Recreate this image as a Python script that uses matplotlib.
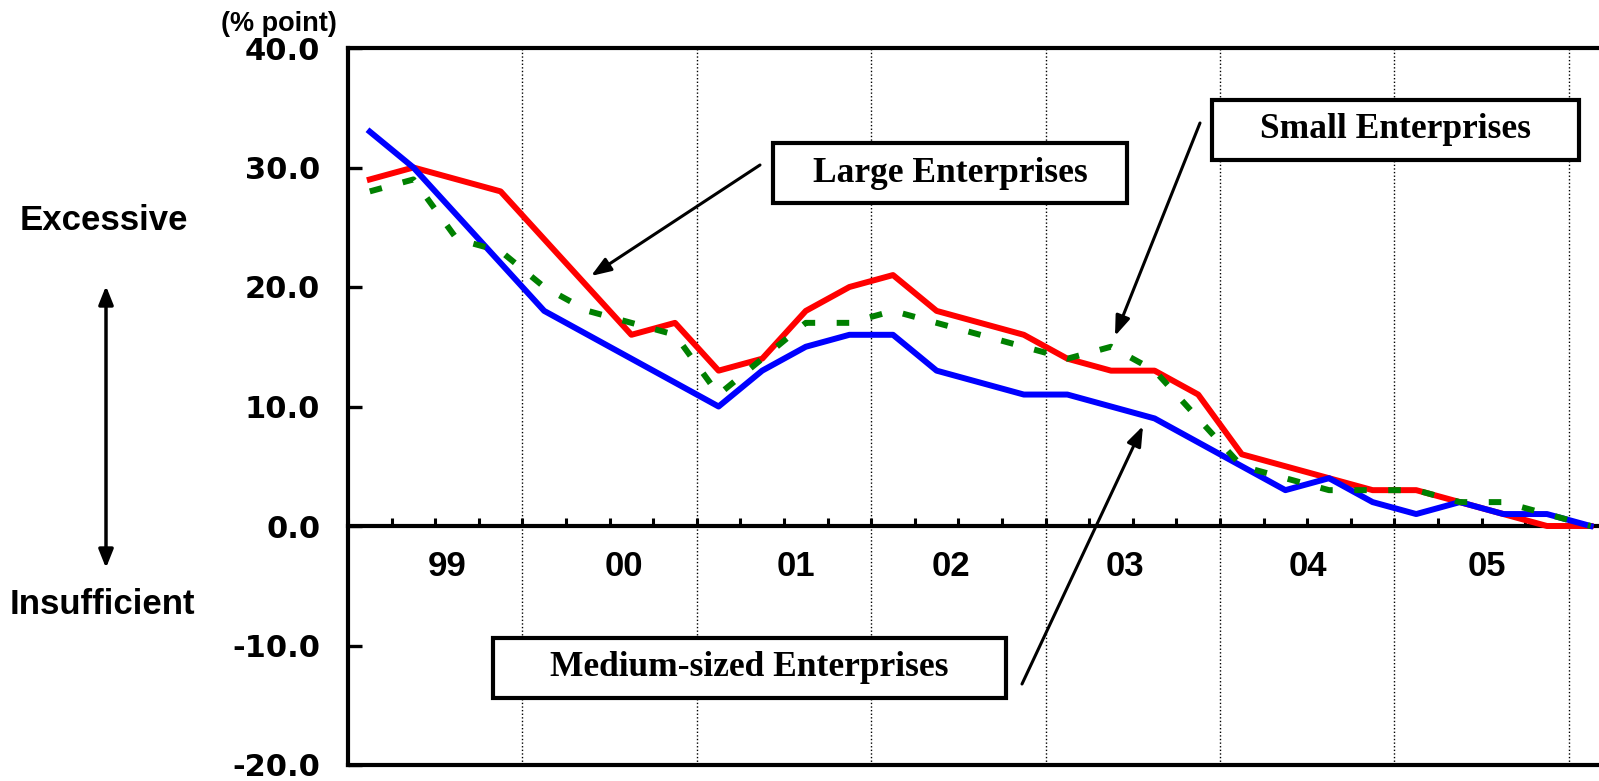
import numpy as np
import matplotlib.pyplot as plt
from matplotlib.patches import Rectangle, FancyArrowPatch

plt.rcParams['font.family'] = ['Liberation Sans', 'DejaVu Sans']

# quarterly values, 1999 Q1 .. 2006 Q1
large = [29, 30, 29, 28, 24, 20, 16, 17, 13, 14, 18, 20, 21, 18, 17, 16, 14, 13, 13, 11,
         6, 5, 4, 3, 3, 2, 1, 0, 0]
medium = [33, 30, 26, 22, 18, 16, 14, 12, 10, 13, 15, 16, 16, 13, 12, 11, 11, 10, 9, 7,
          5, 3, 4, 2, 1, 2, 1, 1, 0]
small = [28, 29, 24, 23, 20, 18, 17, 16, 11, 14, 17, 17, 18, 17, 16, 15, 14, 15, 13, 9,
         5, 4, 3, 3, 3, 2, 2, 1, 0]
years = ['99', '00', '01', '02', '03', '04', '05']
yticks = [-20, -10, 0, 10, 20, 30, 40]

W, H = 1599, 781


def fx(px):
    return px / W


def fy(py):
    return 1 - py / H


x = np.arange(len(large)) + 0.5

fig = plt.figure(figsize=(W / 100, H / 100), dpi=100)
ax = fig.add_axes([fx(348), fy(765), 1 - fx(348), fy(48) - fy(765)])

# year separators
for k in range(1, len(years) + 1):
    ax.axvline(4 * k, color='black', lw=1, ls=(0, (1, 1.6)), zorder=1)

ax.plot(x, large, color='#ff0000', lw=4.3, zorder=3)
ax.plot(x, medium, color='#0000ff', lw=4.3, zorder=4)
ax.plot(x, small, color='#008000', lw=4.3, ls=(0, (2.1, 3.6)), zorder=5)

ax.set_xlim(0, (W - 348) / 43.6)
ax.set_ylim(-20, 40)

ax.spines['bottom'].set_position(('data', 0))
ax.spines['bottom'].set_linewidth(3)
ax.spines['left'].set_linewidth(3)
ax.spines['top'].set_linewidth(3)
ax.spines['right'].set_visible(False)
ax.axhline(-20, color='black', lw=3, clip_on=False)

ax.set_xticks(np.arange(0, 29))
ax.tick_params(axis='x', direction='in', length=6, width=2.2, labelbottom=False)
ax.set_yticks(yticks)
ax.set_yticklabels([f'{v:.1f}' for v in yticks])
ax.tick_params(axis='y', direction='in', length=10, width=2.4, pad=20)
for lab in ax.get_yticklabels():
    lab.set_fontweight('bold')
    lab.set_fontsize(22)
    lab.set_family(['DejaVu Sans'])

# small shifts so the year labels sit as in the original
year_shift = [0.28, 0.33, 0.28, -0.16, -0.19, 0.02, 0.12]
for i, yr in enumerate(years):
    ax.text(4 * i + 2 + year_shift[i], -3.35, yr, ha='center', va='center',
            fontsize=25, fontweight='bold')

fig.text(fx(279), fy(24), '(% point)', ha='center', va='center', fontsize=19.5, fontweight='bold')
fig.text(fx(104), fy(221), 'Excessive', ha='center', va='center', fontsize=25, fontweight='bold')
fig.text(fx(102), fy(604), 'Insufficient', ha='center', va='center', fontsize=25, fontweight='bold')

fig.add_artist(FancyArrowPatch((fx(106), fy(568)), (fx(106), fy(286)), transform=fig.transFigure,
                               arrowstyle='<|-|>,head_length=0.55,head_width=0.22',
                               mutation_scale=20, lw=2.5, color='black', shrinkA=0, shrinkB=0))

# labelled boxes with pointer arrows
boxes = [
    ('Large Enterprises', (773, 143, 1127, 203), (760, 165), (591, 276)),
    ('Small Enterprises', (1212, 100, 1579, 160), (1200, 123), (1115, 336)),
    ('Medium-sized Enterprises', (493, 638, 1006, 698), (1022, 684), (1143, 426)),
]
for label, (x0, y0, x1, y1), tail, head in boxes:
    fig.add_artist(FancyArrowPatch((fx(tail[0]), fy(tail[1])), (fx(head[0]), fy(head[1])),
                                   transform=fig.transFigure,
                                   arrowstyle='-|>,head_length=0.6,head_width=0.22',
                                   mutation_scale=20, lw=2.2, color='black',
                                   shrinkA=0, shrinkB=0, zorder=6))
    fig.add_artist(Rectangle((fx(x0), fy(y1)), fx(x1) - fx(x0), fy(y0) - fy(y1),
                             transform=fig.transFigure, facecolor='white',
                             edgecolor='black', lw=3, zorder=7))
    fig.text(fx((x0 + x1) / 2), fy((y0 + y1) / 2), label, ha='center', va='center',
             fontsize=25.5, fontweight='bold', family=['Liberation Serif', 'DejaVu Serif'],
             zorder=8)

fig.savefig('out.png', dpi=100)
